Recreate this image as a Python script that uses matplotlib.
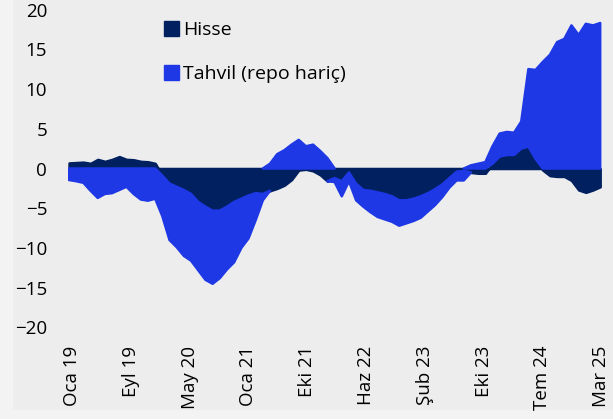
import numpy as np
import matplotlib
matplotlib.use('Agg')
from matplotlib import pyplot as plt
from matplotlib.patches import Patch, Rectangle

# monthly readings, Jan 2019 .. Mar 2025 (75 months)
hisse = [0.7, 0.75, 0.8, 0.65, 1.15, 0.9, 1.15, 1.5, 1.15, 1.1,
         0.9, 0.85, 0.65, -0.9, -1.9, -2.3, -2.7, -3.2, -4.2, -4.8,
         -5.3, -5.3, -4.8, -4.2, -3.8, -3.4, -3.1, -3.2, -2.8, -2.5,
         -2.1, -1.4, -0.2, -0.1, -0.3, -0.8, -1.6, -1.2, -1.6, -0.5,
         -1.9, -2.7, -2.8, -3.0, -3.2, -3.5, -4.0, -4.0, -3.8, -3.5,
         -3.1, -2.6, -2.0, -1.2, -0.4, -0.3, -0.5, -0.6, -0.6, 0.6,
         1.5, 1.7, 1.7, 2.5, 2.75, 1.2, -0.2, -0.9, -1.0, -1.0,
         -1.5, -2.7, -3.0, -2.7, -2.3]
tahvil = [-1.45, -1.6, -1.8, -2.8, -3.7, -3.2, -3.1, -2.7, -2.3, -3.2,
          -3.9, -4.05, -3.8, -5.1, -7.1, -7.6, -8.3, -8.4, -8.6, -9.2,
          -9.2, -8.5, -7.9, -7.6, -6.2, -5.4, -3.4, -0.8, 0.6, 1.8,
          2.3, 3.0, 3.6, 2.8, 3.0, 2.2, 1.3, -0.5, -1.9, -1.1,
          -2.1, -2.1, -2.7, -3.1, -3.2, -3.2, -3.2, -2.9, -2.8, -2.7,
          -2.3, -2.0, -1.6, -1.2, -1.1, -1.2, 0.4, 0.6, 0.8, 2.2,
          2.9, 2.9, 2.8, 3.4, 9.75, 11.2, 13.4, 14.3, 15.9, 16.3,
          18.0, 16.8, 18.2, 18.0, 18.3]
tick_labels = ['Oca 19', 'Eyl 19', 'May 20', 'Oca 21', 'Eki 21',
               'Haz 22', 'Şub 23', 'Eki 23', 'Tem 24', 'Mar 25']

bg = '#EDEDED'
c_hisse = '#002060'
c_tahvil = '#1E38E6'

plt.rcParams['font.family'] = ['Open Sans', 'DejaVu Sans']

h = np.array(hisse)
t = np.array(tahvil)
x = np.arange(len(h))

# positives and negatives are stacked separately (like stacked columns)
h_pos = np.clip(h, 0, None)
h_neg = np.clip(h, None, 0)
t_pos = np.clip(t, 0, None)
t_neg = np.clip(t, None, 0)

fig = plt.figure(figsize=(6.13, 4.19), dpi=100, facecolor=bg)
# thin lighter strips at the left and bottom edge of the picture
fig.patches.append(Rectangle((0, 0), 12 / 613, 1, transform=fig.transFigure,
                             color='#F3F3F3', zorder=-5))
fig.patches.append(Rectangle((0, 0), 1, 9 / 419, transform=fig.transFigure,
                             color='#F3F3F3', zorder=-5))

ax = fig.add_axes([0.111, 0.2184, 0.873, 0.7589])
ax.set_facecolor(bg)

ax.fill_between(x, 0, h, color=c_hisse, lw=1.8, edgecolor=c_hisse)
ax.fill_between(x, h_pos, h_pos + t_pos, color=c_tahvil, lw=1.8,
                edgecolor=c_tahvil, where=t_pos > 0, interpolate=True)
ax.fill_between(x, h_neg, h_neg + t_neg, color=c_tahvil, lw=1.8,
                edgecolor=c_tahvil, where=t_neg < 0, interpolate=True)

ax.set_ylim(-20, 20)
ax.set_yticks(np.arange(-20, 21, 5))
ax.set_xlim(-0.14, 74.42)
ax.set_xticks(0.42 + 8.19 * np.arange(len(tick_labels)))
ax.set_xticklabels(tick_labels, rotation=90, va='top')
ax.tick_params(axis='both', length=0, labelsize=13.5, colors='black')
ax.tick_params(axis='x', pad=13)
ax.tick_params(axis='y', pad=15)
for s in ax.spines.values():
    s.set_visible(False)

handles = [Patch(facecolor=c_hisse, edgecolor=c_hisse, label='Hisse'),
           Patch(facecolor=c_tahvil, edgecolor=c_tahvil, label='Tahvil (repo hariç)')]
ax.legend(handles=handles, loc='upper left', bbox_to_anchor=(154 / 613, 1 - 11 / 419),
          bbox_transform=fig.transFigure, frameon=False, fontsize=14,
          handlelength=0.8, handleheight=0.8, handletextpad=0.2,
          labelspacing=1.35, borderpad=0)

fig.savefig('out.png', dpi=100, facecolor=bg)
